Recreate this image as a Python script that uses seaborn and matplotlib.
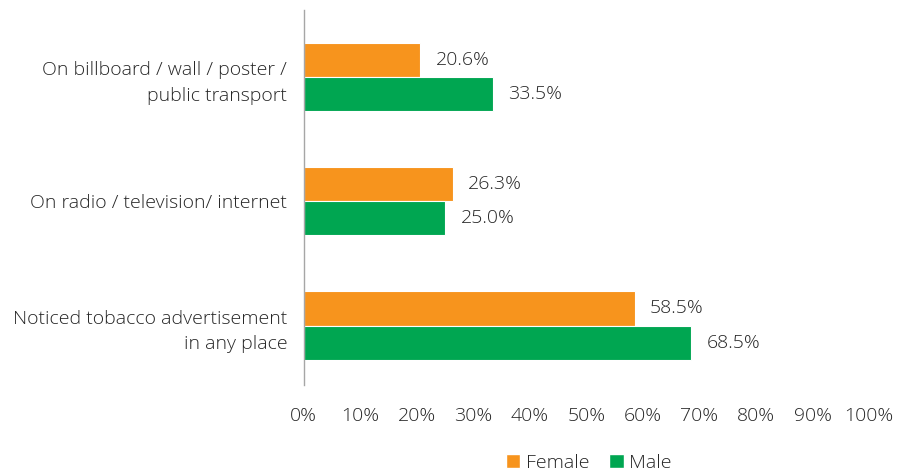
import matplotlib
matplotlib.use("Agg")
import matplotlib.pyplot as plt
import seaborn as sns
import pandas as pd
from matplotlib.patches import Patch

categories = [
    "On billboard / wall / poster /\npublic transport",
    "On radio / television/ internet",
    "Noticed tobacco advertisement\nin any place",
]
female = [20.6, 26.3, 58.5]
male = [33.5, 25.0, 68.5]
series = ["Female", "Male"]
colors = {"Female": "#F7941D", "Male": "#00A651"}
xticks = list(range(0, 101, 10))

df = pd.DataFrame({
    "category": categories * 2,
    "value": female + male,
    "sex": ["Female"] * 3 + ["Male"] * 3,
})

sns.set_theme(style="white")
plt.rcParams["font.family"] = ["Open Sans", "DejaVu Sans"]
plt.rcParams["font.weight"] = "light"
text_color = "#262626"
fs = 14

fig = plt.figure(figsize=(8.99, 4.72), dpi=100)
ax = fig.add_axes([0.338, 0.184, 0.6287, 0.795])

sns.barplot(data=df, y="category", x="value", hue="sex", order=categories,
            hue_order=series, palette=colors, orient="h", width=0.55,
            gap=0.0, saturation=1, legend=False, ax=ax)

for container, vals in zip(ax.containers, [female, male]):
    for bar, v in zip(container, vals):
        bar.set_edgecolor("white")
        bar.set_linewidth(0.8)
        ax.text(bar.get_width() + 2.7, bar.get_y() + bar.get_height() / 2,
                f"{v:.1f}%", va="center", ha="left", fontsize=fs,
                color=text_color)

ax.set_xlim(0, 100)
ax.set_ylim(2.48, -0.54)
ax.set_xticks(xticks)
ax.set_xticklabels([f"{t}%" for t in xticks], fontsize=fs, color=text_color)
ax.tick_params(axis="x", length=0, pad=16)
ax.tick_params(axis="y", length=0, pad=12, labelsize=fs, labelcolor=text_color)
for lbl in ax.get_yticklabels():
    lbl.set_horizontalalignment("right")
    lbl.set_multialignment("right")
    lbl.set_linespacing(1.55)
ax.set_xlabel("")
ax.set_ylabel("")
for side in ["top", "right", "bottom"]:
    ax.spines[side].set_visible(False)
ax.spines["left"].set_color("#A6A6A6")
ax.spines["left"].set_linewidth(1.0)

handles = [Patch(facecolor=colors[s], label=s) for s in series]
fig.legend(handles=handles, loc="center", bbox_to_anchor=(0.655, 0.02),
           ncol=2, frameon=False, fontsize=fs, handlelength=0.75,
           handleheight=0.75, handletextpad=0.3, columnspacing=1.0,
           labelcolor=text_color)

fig.savefig("out.png", dpi=100)
